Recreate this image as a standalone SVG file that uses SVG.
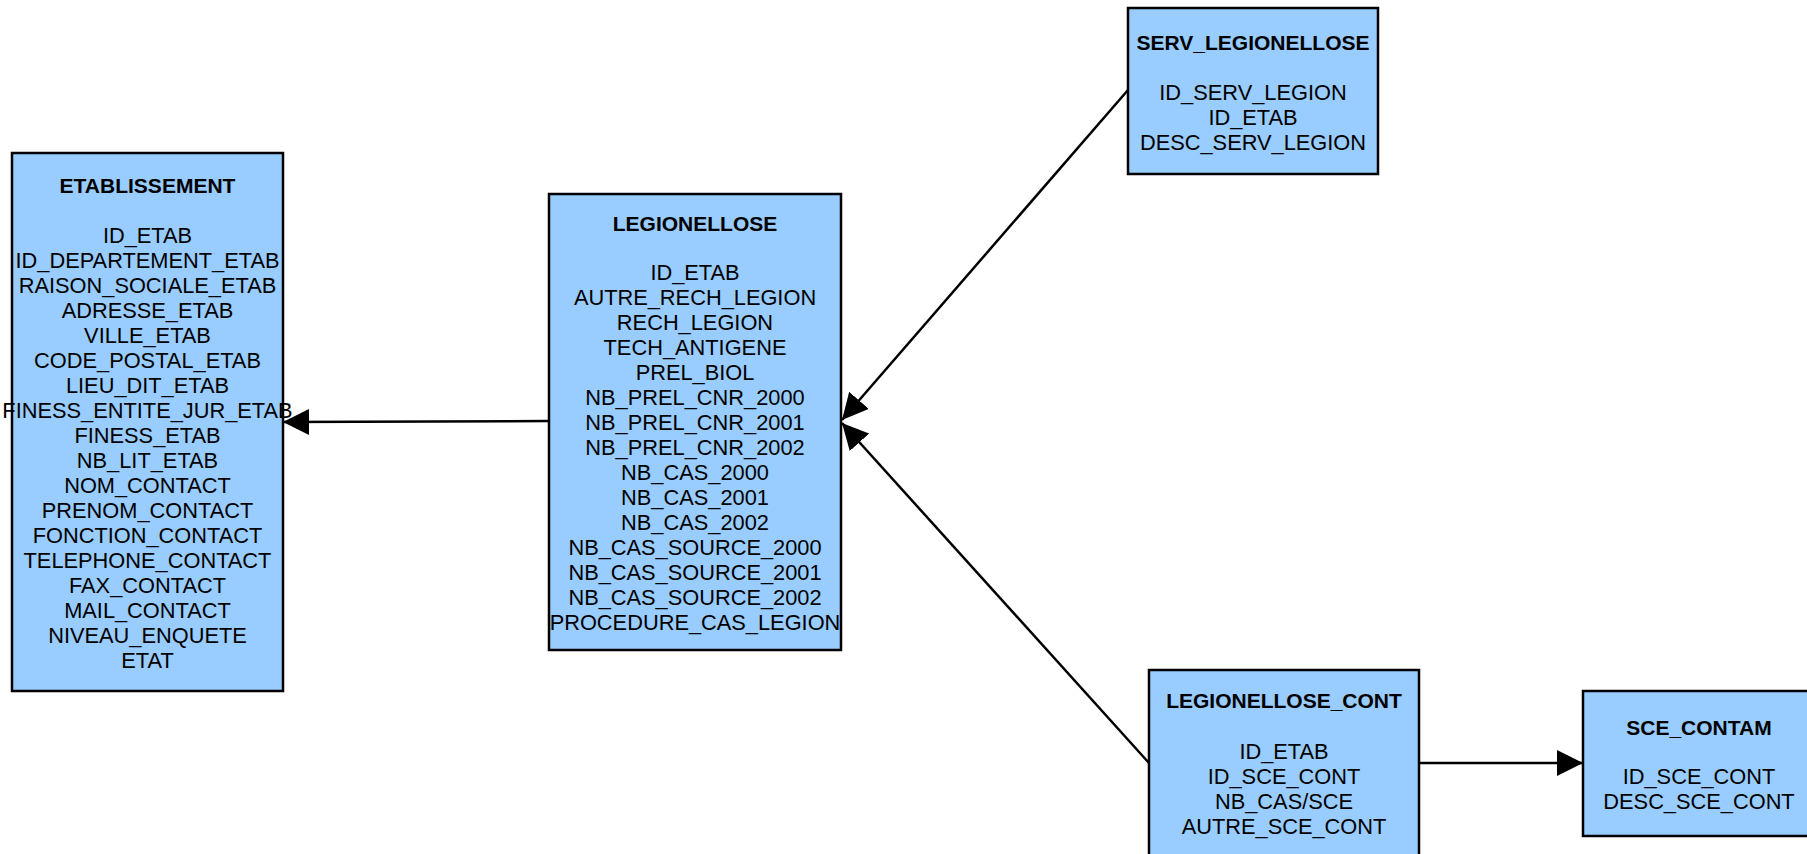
<svg xmlns="http://www.w3.org/2000/svg" width="1807" height="854" viewBox="0 0 1807 854">
  <style>
    .box { fill: #99ccff; stroke: #000; stroke-width: 2.5; }
    .title { font-family: "Liberation Sans", Arial, sans-serif; font-size: 21px; font-weight: bold; fill: #000; text-anchor: middle; }
    .field { font-family: "Liberation Sans", Arial, sans-serif; font-size: 21.8px; fill: #000; text-anchor: middle; }
    .link { fill: none; stroke: #000; stroke-width: 2.5; marker-end: url(#arrow); }
  </style>
  <defs>
    <marker id="arrow" markerUnits="userSpaceOnUse" markerWidth="27" markerHeight="27" refX="26" refY="13" orient="auto" viewBox="0 0 27 27">
      <path d="M0,0 L26,13 L0,26 Z" fill="#000"/>
    </marker>
  </defs>

  <!-- relationships -->
  <g id="connectors">
    <line class="link" x1="549" y1="421" x2="283" y2="422"/>
    <line class="link" x1="1128" y1="90" x2="842" y2="420"/>
    <line class="link" x1="1149" y1="763" x2="842" y2="423"/>
    <line class="link" x1="1419" y1="763" x2="1583" y2="763"/>
  </g>

  <g id="etablissement">
    <rect class="box" x="12" y="153" width="271" height="538"/>
    <text class="title" x="147.5" y="193">ETABLISSEMENT</text>
    <text class="field" x="147.5" y="243">ID_ETAB</text>
    <text class="field" x="147.5" y="268">ID_DEPARTEMENT_ETAB</text>
    <text class="field" x="147.5" y="293">RAISON_SOCIALE_ETAB</text>
    <text class="field" x="147.5" y="318">ADRESSE_ETAB</text>
    <text class="field" x="147.5" y="343">VILLE_ETAB</text>
    <text class="field" x="147.5" y="368">CODE_POSTAL_ETAB</text>
    <text class="field" x="147.5" y="393">LIEU_DIT_ETAB</text>
    <text class="field" x="147.5" y="418">FINESS_ENTITE_JUR_ETAB</text>
    <text class="field" x="147.5" y="443">FINESS_ETAB</text>
    <text class="field" x="147.5" y="468">NB_LIT_ETAB</text>
    <text class="field" x="147.5" y="493">NOM_CONTACT</text>
    <text class="field" x="147.5" y="518">PRENOM_CONTACT</text>
    <text class="field" x="147.5" y="543">FONCTION_CONTACT</text>
    <text class="field" x="147.5" y="568">TELEPHONE_CONTACT</text>
    <text class="field" x="147.5" y="593">FAX_CONTACT</text>
    <text class="field" x="147.5" y="618">MAIL_CONTACT</text>
    <text class="field" x="147.5" y="643">NIVEAU_ENQUETE</text>
    <text class="field" x="147.5" y="668">ETAT</text>
  </g>

  <g id="legionellose">
    <rect class="box" x="549" y="194" width="292" height="456"/>
    <text class="title" x="695" y="231">LEGIONELLOSE</text>
    <text class="field" x="695" y="280">ID_ETAB</text>
    <text class="field" x="695" y="305">AUTRE_RECH_LEGION</text>
    <text class="field" x="695" y="330">RECH_LEGION</text>
    <text class="field" x="695" y="355">TECH_ANTIGENE</text>
    <text class="field" x="695" y="380">PREL_BIOL</text>
    <text class="field" x="695" y="405">NB_PREL_CNR_2000</text>
    <text class="field" x="695" y="430">NB_PREL_CNR_2001</text>
    <text class="field" x="695" y="455">NB_PREL_CNR_2002</text>
    <text class="field" x="695" y="480">NB_CAS_2000</text>
    <text class="field" x="695" y="505">NB_CAS_2001</text>
    <text class="field" x="695" y="530">NB_CAS_2002</text>
    <text class="field" x="695" y="555">NB_CAS_SOURCE_2000</text>
    <text class="field" x="695" y="580">NB_CAS_SOURCE_2001</text>
    <text class="field" x="695" y="605">NB_CAS_SOURCE_2002</text>
    <text class="field" x="695" y="630">PROCEDURE_CAS_LEGION</text>
  </g>

  <g id="serv_legionellose">
    <rect class="box" x="1128" y="8" width="250" height="166"/>
    <text class="title" x="1253" y="50">SERV_LEGIONELLOSE</text>
    <text class="field" x="1253" y="100">ID_SERV_LEGION</text>
    <text class="field" x="1253" y="125">ID_ETAB</text>
    <text class="field" x="1253" y="150">DESC_SERV_LEGION</text>
  </g>

  <g id="legionellose_cont">
    <rect class="box" x="1149" y="670" width="270" height="200"/>
    <text class="title" x="1284" y="708">LEGIONELLOSE_CONT</text>
    <text class="field" x="1284" y="759">ID_ETAB</text>
    <text class="field" x="1284" y="784">ID_SCE_CONT</text>
    <text class="field" x="1284" y="809">NB_CAS/SCE</text>
    <text class="field" x="1284" y="834">AUTRE_SCE_CONT</text>
  </g>

  <g id="sce_contam">
    <rect class="box" x="1583" y="691" width="234" height="145"/>
    <text class="title" x="1699" y="735">SCE_CONTAM</text>
    <text class="field" x="1699" y="784">ID_SCE_CONT</text>
    <text class="field" x="1699" y="809">DESC_SCE_CONT</text>
  </g>
</svg>
